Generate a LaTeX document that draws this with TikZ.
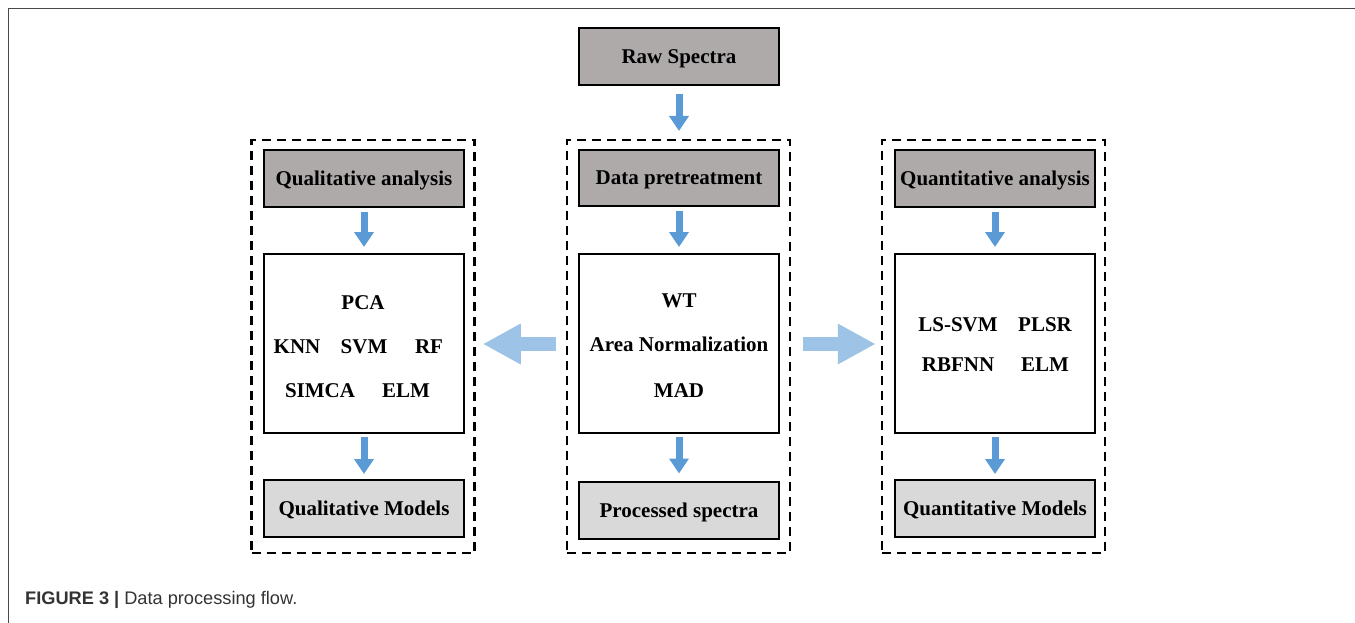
\documentclass[tikz,border=0pt]{standalone}
\usepackage{fontspec}
\setmainfont{Liberation Serif}
\newfontfamily\capfont{Liberation Sans}
\usetikzlibrary{arrows.meta}
\definecolor{darkbox}{HTML}{AEAAAA}
\definecolor{lightbox}{HTML}{D9D9D9}
\definecolor{smallblue}{HTML}{5B9BD5}
\definecolor{bigblue}{HTML}{9DC3E6}
\definecolor{framegray}{HTML}{4A4A4A}
\definecolor{capgray}{HTML}{333333}
\tikzset{
  boxbase/.style={draw=black, line width=2pt, minimum width=200pt, inner sep=0pt,
    font=\fontsize{21}{25}\selectfont\bfseries, text height=14pt, text depth=0pt},
  darkstep/.style={boxbase, fill=darkbox, minimum height=56pt},
  lightstep/.style={boxbase, fill=lightbox, minimum height=57pt},
  whitestep/.style={boxbase, fill=white, minimum height=179pt},
  lbl/.style={inner sep=0pt, font=\fontsize{21}{25}\selectfont\bfseries, text height=14pt, text depth=0pt},
  groupbox/.style={draw=black, line width=2.5pt, dash pattern=on 9pt off 6pt, minimum width=223pt, minimum height=413pt, inner sep=0pt},
  smallarrow/.style={draw=smallblue, line width=7pt, -{Triangle[width=19pt,length=15pt]}},
  bigarrow/.style={draw=bigblue, line width=14pt, -{Triangle[width=38pt,length=38pt]}},
}
\begin{document}
\begin{tikzpicture}[x=1pt,y=-1pt]
\useasboundingbox (0,0) rectangle (1355,623);
\draw[framegray, line width=1.5pt] (8.5,623) -- (8.5,8.5) -- (1355,8.5);

% group frames
\node[groupbox] (gL) at (363,346.5) {};
\node[groupbox] (gC) at (678.5,346.5) {};
\node[groupbox] (gR) at (993.5,346.5) {};

% top
\node[darkstep, minimum height=57pt] (raw) at (679,56.5) {Raw Spectra};

% center column
\node[darkstep] (pre) at (679,178) {Data pretreatment};
\node[whitestep] (cmid) at (679,343.5) {};
\node[lightstep] (proc) at (679,510) {Processed spectra};
\node[lbl] (wt) at (679,300) {WT};
\node[lbl] (an) at (679,344) {Area Normalization};
\node[lbl] (mad) at (679,390) {MAD};

% left column
\node[darkstep] (qla) at (364,178.5) {Qualitative analysis};
\node[whitestep] (lmid) at (364,343.5) {};
\node[lightstep] (qlm) at (364,508.5) {Qualitative Models};
\node[lbl] (pca) at (363,302) {PCA};
\node[lbl] (knn) at (297,346) {KNN};
\node[lbl] (svm) at (364,346) {SVM};
\node[lbl] (rf) at (429,346) {RF};
\node[lbl] (simca) at (320,390) {SIMCA};
\node[lbl] (elm1) at (406,390) {ELM};

% right column
\node[darkstep] (qna) at (995,178.5) {Quantitative analysis};
\node[whitestep] (rmid) at (995,343.5) {};
\node[lightstep] (qnm) at (995,508.5) {Quantitative Models};
\node[lbl] (lssvm) at (958,324) {LS-SVM};
\node[lbl] (plsr) at (1045,324) {PLSR};
\node[lbl] (rbfnn) at (958,364) {RBFNN};
\node[lbl] (elm2) at (1045,364) {ELM};

% small arrows
\draw[smallarrow] ([yshift=-8pt]raw.south) -- ([yshift=18pt]pre.north);
\draw[smallarrow] ([yshift=-4pt]pre.south) -- ([yshift=6pt]cmid.north);
\draw[smallarrow] ([yshift=-3pt]cmid.south) -- ([yshift=7pt]proc.north);
\draw[smallarrow] ([yshift=-4pt]qla.south) -- ([yshift=6pt]lmid.north);
\draw[smallarrow] ([yshift=-3pt]lmid.south) -- ([yshift=5pt]qlm.north);
\draw[smallarrow] ([yshift=-4pt]qna.south) -- ([yshift=6pt]rmid.north);
\draw[smallarrow] ([yshift=-3pt]rmid.south) -- ([yshift=5pt]qnm.north);

% big arrows
\draw[bigarrow] ([xshift=-10pt,yshift=2.5pt]gC.west) -- ([xshift=7pt,yshift=2.5pt]gL.east);
\draw[bigarrow] ([xshift=12pt,yshift=2.5pt]gC.east) -- ([xshift=-5pt,yshift=2.5pt]gR.west);

% caption
\node[anchor=base west, inner sep=0pt, text=capgray, font=\capfont\fontsize{18.2}{21}\selectfont] (cap) at (25,604) {\textbf{FIGURE 3 |} Data processing flow.};
\end{tikzpicture}
\end{document}
